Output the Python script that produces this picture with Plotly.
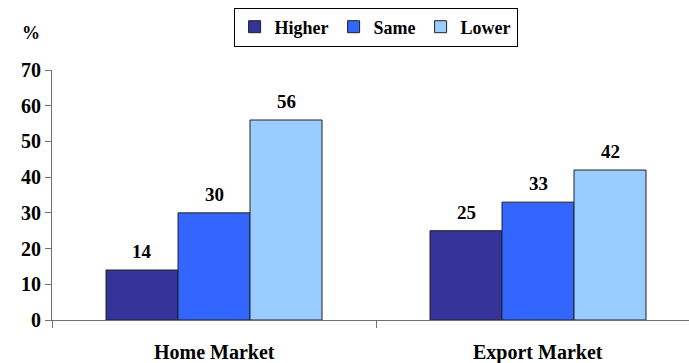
import plotly.graph_objects as go

categories = ["Home Market", "Export Market"]
series_names = ["Higher", "Same", "Lower"]
higher = [14, 25]
same = [30, 33]
lower = [56, 42]
colors = ["#333399", "#3366FF", "#99CCFF"]

y_ticks = [0, 10, 20, 30, 40, 50, 60, 70]

FONT = "Liberation Serif"
fig = go.Figure()
series_values = [higher, same, lower]
for name, vals, col in zip(series_names, series_values, colors):
    fig.add_trace(go.Bar(
        name=f"<b>{name}</b>", x=categories, y=vals,
        marker=dict(color=col, line=dict(color="#222222", width=1)),
    ))

# value labels above each bar (one bar width apart within a group)
bar_px = 72
for i, vals in enumerate(series_values):
    for cat, v in zip(categories, vals):
        fig.add_annotation(
            x=cat, y=v, text=f"<b>{v}</b>", showarrow=False,
            yanchor="bottom", yshift=6, xshift=(i - 1) * bar_px,
            font=dict(family=FONT, size=19, color="black"),
        )

# category names below the axis
for cat in categories:
    fig.add_annotation(
        x=cat, xref="x", y=0, yref="paper", text=f"<b>{cat}</b>",
        showarrow=False, yanchor="middle", yshift=-32,
        font=dict(family=FONT, size=20, color="black"),
    )

fig.add_annotation(
    xref="paper", yref="paper", x=-0.033, y=1.15, text="<b>%</b>",
    showarrow=False, xanchor="center", yanchor="middle",
    font=dict(family=FONT, size=18, color="black"),
)

fig.update_layout(
    width=689, height=363,
    margin=dict(l=52, r=0, t=70, b=43),
    paper_bgcolor="white", plot_bgcolor="white",
    barmode="group", bargap=1/3, bargroupgap=0,
    showlegend=True,
    legend=dict(
        orientation="h", x=0.508, xanchor="center", y=1.172, yanchor="middle",
        bordercolor="black", borderwidth=1,
        font=dict(family=FONT, size=18, color="black"),
    ),
)
fig.update_xaxes(
    type="category", range=[-0.5, 1.466],
    showline=True, linecolor="#707070", linewidth=1,
    ticks="outside", tickson="boundaries", ticklen=7, tickcolor="#707070",
    showticklabels=False,
    showgrid=False,
)
fig.update_yaxes(
    range=[0, 70], tickvals=y_ticks, ticktext=[f"<b>{t}</b>" for t in y_ticks],
    showline=True, linecolor="#707070", linewidth=1,
    ticks="outside", ticklen=6, tickcolor="#707070",
    tickfont=dict(family=FONT, size=20, color="black"),
    showgrid=False, zeroline=False,
)

fig.write_html("out.html")
